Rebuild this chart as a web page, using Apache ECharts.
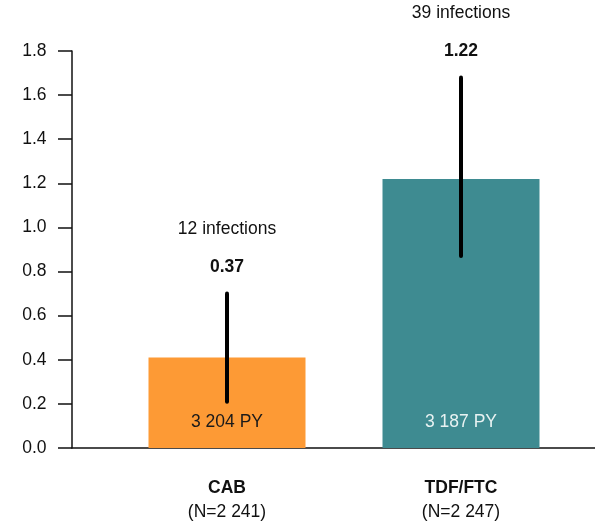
<!DOCTYPE html>
<html>
<head>
<meta charset="utf-8">
<script src="https://cdn.jsdelivr.net/npm/echarts@6/dist/echarts.min.js"></script>
<style>html,body{margin:0;padding:0;background:#fff}#c{width:595px;height:521px}</style>
</head>
<body>
<div id="c"></div>
<script>
const categories = ['CAB', 'TDF/FTC'];
const nLabels = ['(N=2 241)', '(N=2 247)'];
const barValues = [0.41, 1.22];
const ciLow = [0.21, 0.87];
const ciHigh = [0.70, 1.68];
const rateLabels = ['0.37', '1.22'];
const infectionLabels = ['12 infections', '39 infections'];
const pyLabels = ['3 204 PY', '3 187 PY'];
const yTicks = [0, 0.2, 0.4, 0.6, 0.8, 1.0, 1.2, 1.4, 1.6, 1.8];

const barColors = ['#FD9A35', '#3E8B91'];
const pyColors = ['#1a1a1a', '#e8f2f2'];
const FONT = 'Liberation Sans, Arial, sans-serif';
const FS = 17.5;

const chart = echarts.init(document.getElementById('c'));
chart.setOption({
  animation: false,
  backgroundColor: '#fff',
  textStyle: { fontFamily: FONT },
  grid: [
    { left: 110, right: 17, top: 51, bottom: 73 },
    { left: 72, right: 0, top: 51, bottom: 73 }
  ],
  xAxis: [
    {
      type: 'category', gridIndex: 0, data: categories,
      axisLine: { show: false }, axisTick: { show: false },
      axisLabel: {
        margin: 28, interval: 0,
        formatter: (v, i) => '{b|' + v + '}\n{n|' + nLabels[i] + '}',
        rich: {
          b: { fontFamily: FONT, fontSize: FS, fontWeight: 'bold', color: '#111', lineHeight: 24 },
          n: { fontFamily: FONT, fontSize: FS, color: '#111', lineHeight: 24 }
        }
      }
    },
    {
      type: 'value', gridIndex: 1, min: 0, max: 1,
      axisLine: { show: true, onZero: false, lineStyle: { color: '#111', width: 1.5 } },
      axisTick: { show: false }, axisLabel: { show: false }, splitLine: { show: false }
    }
  ],
  yAxis: [
    {
      type: 'value', gridIndex: 0, min: 0, max: 1.8, interval: 0.2, offset: 38,
      axisLine: { show: true, lineStyle: { color: '#111', width: 1.5 } },
      axisTick: { show: true, length: 14, lineStyle: { color: '#111', width: 1.5 } },
      axisLabel: { margin: 25.5, fontSize: FS, color: '#111', fontFamily: FONT,
        formatter: v => v.toFixed(1) },
      splitLine: { show: false }
    },
    { type: 'value', gridIndex: 1, min: 0, max: 1, show: false }
  ],
  series: [
    {
      type: 'bar', xAxisIndex: 0, yAxisIndex: 0, barWidth: 157, z: 2,
      data: barValues.map((v, i) => ({
        value: v,
        itemStyle: { color: barColors[i] },
        label: {
          show: true, position: 'insideBottom', distance: 17,
          formatter: pyLabels[i], color: pyColors[i], fontSize: FS, fontFamily: FONT
        }
      }))
    },
    {
      type: 'custom', xAxisIndex: 0, yAxisIndex: 0, z: 5,
      data: categories.map((c, i) => [i, ciLow[i], ciHigh[i]]),
      renderItem: (params, api) => {
        const i = params.dataIndex;
        const lo = api.coord([api.value(0), api.value(1)]);
        const hi = api.coord([api.value(0), api.value(2)]);
        return {
          type: 'group',
          children: [
            { type: 'line', shape: { x1: lo[0], y1: lo[1], x2: hi[0], y2: hi[1] },
              style: { stroke: '#000', lineWidth: 4, lineCap: 'round' } },
            { type: 'text', x: hi[0], y: hi[1] - 26,
              style: { text: rateLabels[i], fontSize: FS, fontWeight: 'bold', fontFamily: FONT,
                fill: '#111', align: 'center', verticalAlign: 'middle' } },
            { type: 'text', x: hi[0], y: hi[1] - 64,
              style: { text: infectionLabels[i], fontSize: FS, fontFamily: FONT,
                fill: '#111', align: 'center', verticalAlign: 'middle' } }
          ]
        };
      }
    }
  ]
});
</script>
</body>
</html>
